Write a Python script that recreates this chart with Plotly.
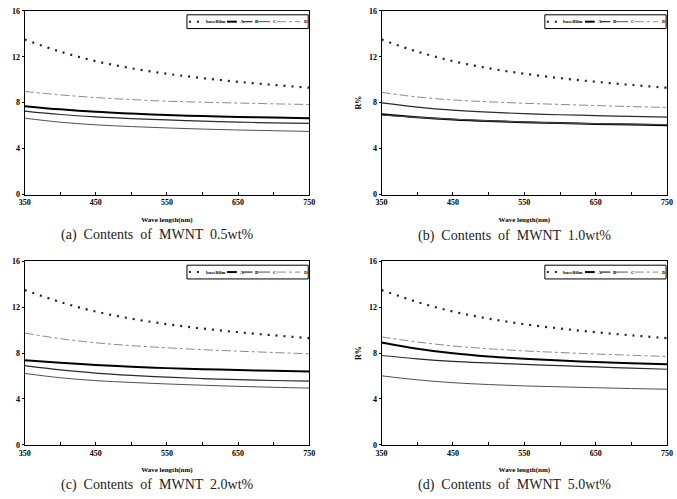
import plotly.graph_objects as go

W, H = 677, 499

wavelength = [350, 400, 450, 500, 550, 600, 650, 700, 750]
series_names = ["baselfilm", "A", "B", "C", "D"]

baselfilm = [13.5, 12.45, 11.62, 11.0, 10.52, 10.14, 9.82, 9.55, 9.3]

a_A = [7.7, 7.42, 7.2, 7.05, 6.93, 6.83, 6.76, 6.7, 6.65]
a_B = [7.27, 6.97, 6.76, 6.61, 6.5, 6.4, 6.31, 6.24, 6.19]
a_C = [6.65, 6.3, 6.07, 5.92, 5.8, 5.7, 5.62, 5.56, 5.5]
a_D = [8.98, 8.68, 8.45, 8.27, 8.13, 8.04, 7.97, 7.9, 7.84]

b_A = [7.0, 6.74, 6.54, 6.4, 6.3, 6.22, 6.15, 6.09, 6.04]
b_B = [7.98, 7.62, 7.35, 7.17, 7.04, 6.95, 6.87, 6.8, 6.75]
b_C = [6.92, 6.72, 6.56, 6.43, 6.32, 6.23, 6.17, 6.13, 6.1]
b_D = [8.9, 8.5, 8.24, 8.08, 7.95, 7.85, 7.75, 7.66, 7.58]

c_A = [7.37, 7.15, 6.97, 6.82, 6.69, 6.6, 6.52, 6.46, 6.4]
c_B = [6.9, 6.53, 6.26, 6.06, 5.9, 5.78, 5.68, 5.61, 5.55]
c_C = [6.23, 5.85, 5.6, 5.44, 5.31, 5.2, 5.1, 5.02, 4.95]
c_D = [9.74, 9.26, 8.9, 8.65, 8.46, 8.3, 8.17, 8.05, 7.94]

d_A = [8.93, 8.38, 7.98, 7.7, 7.5, 7.35, 7.22, 7.11, 7.02]
d_B = [7.79, 7.5, 7.28, 7.14, 7.02, 6.9, 6.79, 6.69, 6.59]
d_C = [6.02, 5.67, 5.42, 5.26, 5.14, 5.06, 4.98, 4.91, 4.85]
d_D = [9.41, 8.97, 8.62, 8.38, 8.19, 8.05, 7.92, 7.81, 7.7]

captions = ["(a)  Contents  of  MWNT  0.5wt%", "(b)  Contents  of  MWNT  1.0wt%",
            "(c)  Contents  of  MWNT  2.0wt%", "(d)  Contents  of  MWNT  5.0wt%"]
x_tick_vals = [350, 400, 450, 500, 550, 600, 650, 700, 750]
x_tick_text = ["350", "", "450", "", "550", "", "650", "", "750"]
y_tick_vals = [0, 4, 8, 12, 16]
x_title = "Wave length(nm)"
y_title = "R%"

panels = [
    [baselfilm, a_A, a_B, a_C, a_D],
    [baselfilm, b_A, b_B, b_C, b_D],
    [baselfilm, c_A, c_B, c_C, c_D],
    [baselfilm, d_A, d_B, d_C, d_D],
]

# pixel boxes of plot areas: left, right, top, bottom
boxes = [(16, 307, 7, 194), (381, 673, 7, 194), (16, 307, 262, 449), (381, 673, 262, 449)]
show_ytitle = [False, True, False, True]
caption_pos = [(152, 235), (517, 236), (152, 490), (517, 490)]

styles = [
    dict(color="#222222", width=2.2, dash="2px,6px"),
    dict(color="#000000", width=2.0),
    dict(color="#2a2a2a", width=1.2),
    dict(color="#505050", width=1.0),
    dict(color="#8a8a8a", width=1.0, dash="dashdot"),
]

def px(x):
    return x / W

def py(y):
    return 1 - y / H

fig = go.Figure()
shapes = []
annotations = []
serif = "Liberation Serif"

for i, (data, box) in enumerate(zip(panels, boxes)):
    l, r, t, b = box
    xa = "xaxis" if i == 0 else f"xaxis{i+1}"
    ya = "yaxis" if i == 0 else f"yaxis{i+1}"
    xr = "x" if i == 0 else f"x{i+1}"
    yr = "y" if i == 0 else f"y{i+1}"
    for name, vals, st in zip(series_names, data, styles):
        fig.add_trace(go.Scatter(x=wavelength, y=vals, mode="lines", name=name,
                                 line=dict(shape="spline", **st), xaxis=xr, yaxis=yr,
                                 showlegend=False))
    fig.layout[xa] = dict(domain=[px(l), px(r)], range=[350, 750], anchor=yr,
                          tickvals=x_tick_vals, ticktext=x_tick_text, ticks="inside",
                          ticklen=3, tickcolor="black", showline=True, linecolor="black",
                          linewidth=1, mirror=True, showgrid=False, zeroline=False,
                          tickfont=dict(family=serif, size=8, color="black", weight="bold"),
                          title=dict(text=x_title, standoff=10,
                                     font=dict(family=serif, size=7, color="black", weight="bold")))
    fig.layout[ya] = dict(domain=[py(b), py(t)], range=[0, 16], anchor=xr,
                          tickvals=y_tick_vals, ticks="outside", ticklen=2, tickcolor="black",
                          showline=True, linecolor="black", linewidth=1, mirror=True,
                          showgrid=False, zeroline=False,
                          tickfont=dict(family=serif, size=8, color="black", weight="bold"),
                          title=dict(text=y_title if show_ytitle[i] else "", standoff=6,
                                     font=dict(family=serif, size=8, color="black", weight="bold")))
    # manual legend
    lb_l, lb_r, lb_t, lb_b = r - 125, r - 1, t + 4, t + 18
    shapes.append(dict(type="rect", xref="paper", yref="paper", x0=px(lb_l), x1=px(lb_r),
                       y0=py(lb_b), y1=py(lb_t), line=dict(color="black", width=1),
                       fillcolor="white", layer="above"))
    ymid = (lb_t + lb_b) / 2
    items = [(lb_l + 2, lb_l + 14, lb_l + 17), (lb_l + 41, lb_l + 51, lb_l + 52),
             (lb_l + 57, lb_l + 67, lb_l + 68), (lb_l + 73, lb_l + 85, lb_l + 86),
             (lb_l + 92, lb_l + 116, lb_l + 118)]
    for (x0, x1, tx), name, st in zip(items, series_names, styles):
        shapes.append(dict(type="line", xref="paper", yref="paper", x0=px(x0), x1=px(x1),
                           y0=py(ymid), y1=py(ymid), layer="above",
                           line=dict(color=st["color"], width=min(st["width"], 2),
                                     dash=st.get("dash", "solid"))))
        annotations.append(dict(text=name, xref="paper", yref="paper", x=px(tx), y=py(ymid),
                                xanchor="left", yanchor="middle", showarrow=False,
                                font=dict(family=serif, size=5, color="black", weight="bold")))
    cx, cy = caption_pos[i]
    annotations.append(dict(text=captions[i], xref="paper", yref="paper", x=px(cx), y=py(cy),
                            xanchor="center", yanchor="middle", showarrow=False,
                            font=dict(family=serif, size=14, color="#222222")))

fig.update_layout(width=W, height=H, margin=dict(l=0, r=0, t=0, b=0),
                  paper_bgcolor="white", plot_bgcolor="white",
                  shapes=shapes, annotations=annotations, showlegend=False)
fig.write_html("out.html")
